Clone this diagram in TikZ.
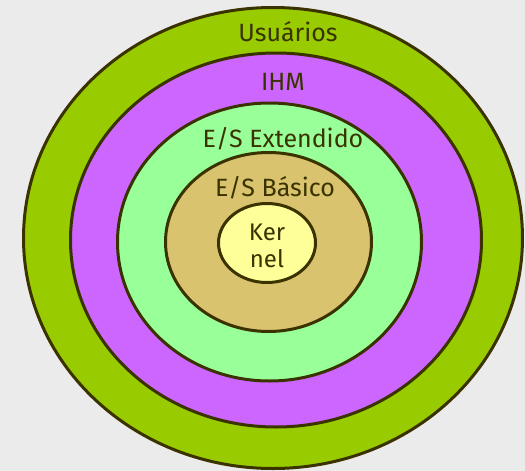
\documentclass[tikz,border=0pt]{standalone}
\usepackage{fontspec}
\setmainfont{Fira Sans}
\usetikzlibrary{shapes.geometric}
\definecolor{bg}{HTML}{EBEBEB}
\definecolor{ink}{HTML}{3A3300}
\definecolor{cuser}{HTML}{99CC00}
\definecolor{cihm}{HTML}{CC66FF}
\definecolor{cext}{HTML}{99FF99}
\definecolor{cbas}{HTML}{D9C36E}
\definecolor{ckern}{HTML}{FFFF99}
\tikzset{
  ring/.style={ellipse, draw=ink, line width=3pt, inner sep=0pt},
  lbl/.style={text=ink, font=\fontsize{25}{28}\selectfont, inner sep=0pt}
}
\begin{document}
\begin{tikzpicture}[x=1pt,y=-1pt]
\fill[bg] (0,0) rectangle (525,471);
\useasboundingbox (0,0) rectangle (525,471);
\node[ring, fill=cuser, minimum width=499pt, minimum height=461pt] (usr) at (273,238) {};
\node[ring, fill=cihm, minimum width=411pt, minimum height=374pt] (ihm) at (276,240) {};
\node[ring, fill=cext, minimum width=304pt, minimum height=278pt] (ext) at (269.5,242) {};
\node[ring, fill=cbas, minimum width=206pt, minimum height=179pt] (bas) at (268.5,242) {};
\node[ring, fill=ckern, minimum width=97pt, minimum height=79pt] (ker) at (267,243) {};
\node[lbl] (tusr) at (288,32) {Usuários};
\node[lbl] (tihm) at (283,82) {IHM};
\node[lbl] (text) at (283,139) {E/S Extendido};
\node[lbl] (tbas) at (275,188) {E/S Básico};
\node[lbl, align=center, font=\fontsize{24}{27}\selectfont] (tker) at (267,246) {Ker\\nel};
\end{tikzpicture}
\end{document}
